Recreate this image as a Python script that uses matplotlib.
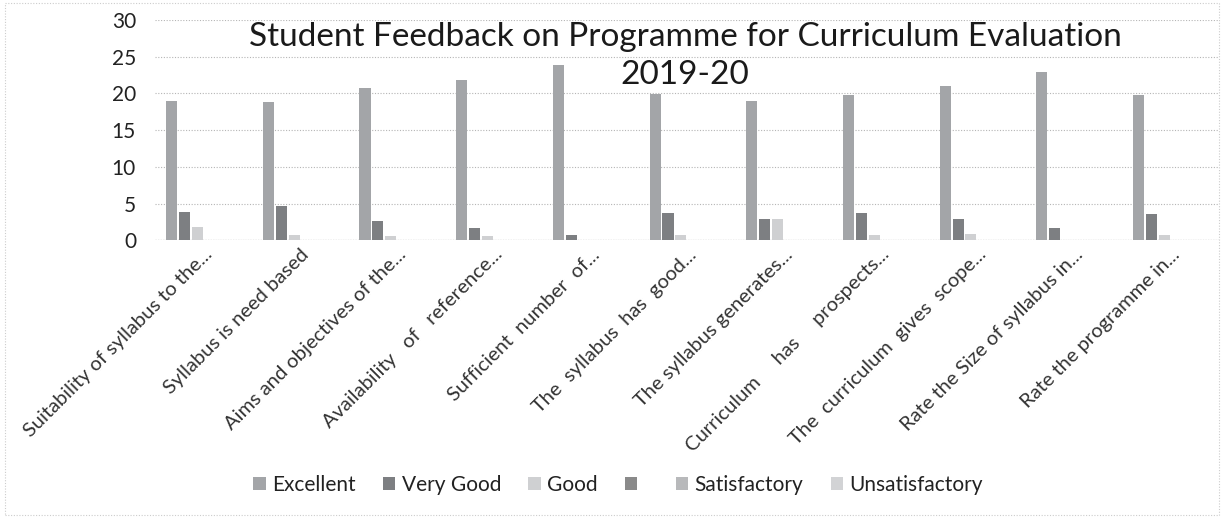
import numpy as np
import matplotlib
matplotlib.use('Agg')
import matplotlib.pyplot as plt

plt.rcParams['font.family'] = ['Lato', 'DejaVu Sans']

categories = ['Suitability of syllabus to the...',
              'Syllabus is need based',
              'Aims and objectives of the...',
              'Availability   of   reference...',
              'Sufficient  number  of...',
              'The  syllabus  has  good...',
              'The syllabus generates...',
              'Curriculum     has     prospects...',
              'The  curriculum  gives  scope...',
              'Rate the Size of syllabus in...',
              'Rate the programme in...']

series_names = ['Excellent', 'Very Good', 'Good', '', 'Satisfactory', 'Unsatisfactory']

excellent      = [19.0, 18.9, 20.8, 21.8, 23.9, 19.9, 19.0, 19.8, 21.0, 22.9, 19.8]
very_good      = [3.9, 4.7, 2.6, 1.6, 0.7, 3.7, 2.9, 3.7, 2.9, 1.7, 3.6]
good           = [1.8, 0.7, 0.6, 0.6, 0.0, 0.7, 2.9, 0.7, 0.9, 0.0, 0.7]
blank          = [0] * 11
satisfactory   = [0] * 11
unsatisfactory = [0] * 11

values = [excellent, very_good, good, blank, satisfactory, unsatisfactory]
colors = ['#a3a5a8', '#7d7f82', '#cfd0d2', '#8a8a8a', '#b8b9bb', '#d2d3d5']

fig = plt.figure(figsize=(12.24, 5.2), dpi=100)
ax = fig.add_axes([0.127, 0.538, 0.869, 0.4235])

x = np.arange(len(categories))
step = 0.133
width = 0.115
for i, (name, vals) in enumerate(zip(series_names, values)):
    ax.bar(x + (i - 2.5) * step, vals, width, color=colors[i], label=name if name else ' ',
           zorder=3)

ax.set_xlim(-0.5, len(categories) - 0.5)
ax.set_ylim(0, 30)
ax.set_yticks(range(0, 31, 5))
ax.tick_params(axis='y', labelsize=15, length=0, pad=14)
ax.tick_params(axis='x', length=0, pad=4)
ax.set_xticks(x)
ax.set_xticklabels(categories, rotation=45, ha='right', rotation_mode='anchor', fontsize=14.5,
                   color='#333333')
for lbl in ax.get_yticklabels():
    lbl.set_color('#222222')
for s in ax.spines.values():
    s.set_visible(False)
ax.grid(axis='y', color='#b5b5b5', linestyle=(0, (1, 1.5)), linewidth=0.8, zorder=0)
ax.axhline(0, color='#aaaaaa', linestyle=(0, (1, 1)), linewidth=0.9, zorder=2)

# the title sits inside the plot area in the reference
fig.text(0.5596, 0.957, 'Student Feedback on Programme for Curriculum Evaluation\n2019-20',
         ha='center', va='top', fontsize=24, color='#1a1a1a', linespacing=1.3)

leg = fig.legend(loc='center', bbox_to_anchor=(0.505, 0.067), ncol=6, frameon=False,
                 fontsize=15, handlelength=0.6, handleheight=0.6, handletextpad=0.3,
                 columnspacing=1.3)
for t in leg.get_texts():
    t.set_color('#222222')

# faint chart border
fig.patches.append(plt.Rectangle((0.004, 0.01), 0.992, 0.985, transform=fig.transFigure,
                                 fill=False, edgecolor='#cccccc', linestyle=(0, (1, 1.5)),
                                 linewidth=0.8))

fig.savefig('out.png', dpi=100, facecolor='white')
